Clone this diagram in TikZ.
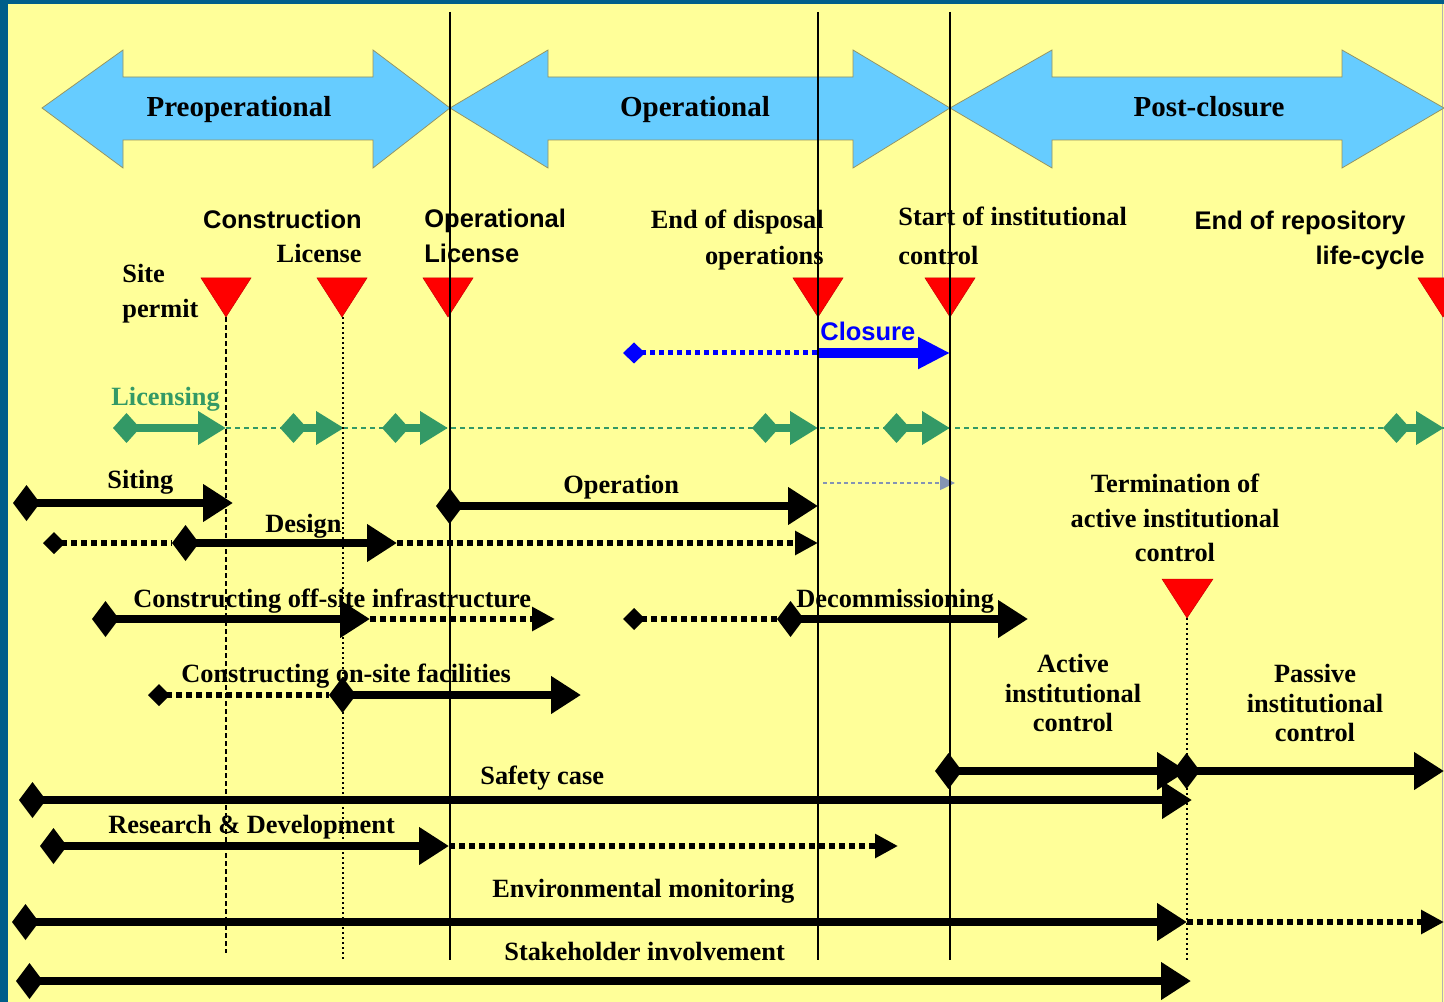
\documentclass[tikz,border=0pt]{standalone}
\usepackage{fontspec}
\setmainfont{Liberation Serif}
\setsansfont{Liberation Sans}
\usetikzlibrary{arrows.meta,calc}

\definecolor{bgyellow}{HTML}{FFFF99}
\definecolor{frameblue}{HTML}{005E8A}
\definecolor{phaseblue}{HTML}{66CCFF}
\definecolor{licgreen}{HTML}{339966}
\definecolor{closeblue}{HTML}{0000FF}
\definecolor{hintgray}{HTML}{8494B4}

\begin{document}
\begin{tikzpicture}[x=0.2mm, y=-0.2mm,
  phase/.style={fill=phaseblue, draw=black!45!yellow!70!gray, line width=0.15mm},
  phaselbl/.style={font=\fontsize{16.5}{20}\selectfont\bfseries, inner sep=0pt, anchor=base},
  lbl/.style={font=\fontsize{15}{20}\selectfont\bfseries, inner sep=0pt, anchor=base west},
  slbl/.style={font=\sffamily\fontsize{14.5}{19.5}\selectfont\bfseries, inner sep=0pt},
  milestone/.style={fill=red, draw=red!80!black, line width=0.1mm},
  bar/.style={line width=1.6mm, {Diamond[length=5.4mm,width=7.2mm]}-{Triangle[length=6mm,width=7.2mm]}},
  dotbar/.style={line width=1.2mm, dash pattern=on 1.2mm off 0.8mm},
  dotstart/.style={{Diamond[length=4.4mm,width=4.4mm]}-},
  dottip/.style={-{Triangle[length=4.6mm,width=4.6mm]}},
  licbar/.style={licgreen, line width=1.6mm, {Diamond[length=5.4mm,width=6mm]}-{Triangle[length=5.6mm,width=6.4mm]}},
  vdot/.style={line width=0.35mm, dash pattern=on 0.4mm off 0.6mm}
]
  % Page: yellow sheet with blue frame
  \useasboundingbox (0,0) rectangle (1444,1002);
  \clip (0,0) rectangle (1444,1002);
  \fill[bgyellow] (0,0) rectangle (1444,1002);
  \fill[frameblue] (0,0) rectangle (8,1002);
  \fill[frameblue] (0,0) rectangle (1444,4);
  \draw[black!30, line width=0.2mm] (1442,4) -- (1442,1002);

  % Phase double arrows
  \foreach \la/\lb/\rb/\ra/\cx/\name/\txt in {42/123/373/450/239/preop/Preoperational,
      450/548/853/950/695/oper/Operational, 950/1052/1342/1444/1209/post/Post-closure} {
    \draw[phase] (\la,108) -- (\lb,50) -- (\lb,77) -- (\rb,77) -- (\rb,50) -- (\ra,108)
      -- (\rb,168) -- (\rb,140) -- (\lb,140) -- (\lb,168) -- cycle;
    \node[phaselbl] (\name) at (\cx,117) {\txt};
  }

  % Milestones (red triangles)
  \foreach \x in {226,342,448,818,950,1443}
    \draw[milestone] (\x-25,278) -- (\x+25,278) -- (\x,317) -- cycle;
  \draw[milestone] (1162,579) -- (1213,579) -- (1187,618) -- cycle;

  % Milestone labels
  \node[lbl, anchor=north west, align=left] (sitepermit) at (122,264) {Site\\permit};
  \node[lbl, anchor=north east, align=right, font=\fontsize{15}{19.3}\selectfont\bfseries] (conlicense) at (362,210)
    {{\sffamily\fontsize{14.5}{19.3}\selectfont Construction}\\License};
  \node[slbl, anchor=north west, align=left] (oplicense) at (424,209) {Operational\\License};
  \node[lbl, anchor=north east, align=right] (enddisposal) at (824,210) {End of disposal\\operations};
  \node[lbl, anchor=north west, align=left, font=\fontsize{15}{22.2}\selectfont\bfseries] (startcontrol) at (898,207)
    {Start of institutional\\control};
  \node[slbl, anchor=north east, align=right] (endrepo) at (1425,211)
    {End of repository\hspace*{3.8mm}\\life-cycle};
  \node[lbl, anchor=north, align=center, font=\fontsize{15}{19.6}\selectfont\bfseries] (termination) at (1175,474)
    {Termination of\\active institutional\\control};

  % Licensing (green)
  \node[lbl, licgreen] (licensing) at (111,405) {Licensing};
  \draw[licgreen, line width=0.4mm, dash pattern=on 1mm off 0.8mm] (226,428) -- (1444,428);
  \draw[licbar] (113,428) -- (226,428);
  \foreach \a/\b in {280/344, 382/448, 752/818, 883/950, 1383/1444}
    \draw[licbar] (\a,428) -- (\b,428);

  % Closure (blue)
  \draw[closeblue, line width=1mm, dash pattern=on 1mm off 0.8mm, {Diamond[length=4.4mm,width=4.2mm]}-] (623,353) -- (818,353);
  \draw[closeblue, line width=2mm, -{Triangle[length=6.4mm,width=6mm]}] (818,353) -- (950,353);
  \node[slbl, closeblue, anchor=base west] (closure) at (820,341) {Closure};

  % Hint arrow after operation
  \draw[hintgray, line width=0.3mm, dash pattern=on 0.8mm off 0.6mm, -{Triangle[length=3mm,width=2.8mm]}] (823,483) -- (955,483);

  % Activities
  \draw[bar] (13,503) -- (233,503);
  \node[lbl] (siting) at (107,488) {Siting};

  \draw[bar] (436,506) -- (818,506);
  \node[lbl] (operation) at (563,493) {Operation};

  \draw[dotbar, dotstart] (43,543) -- (172,543);
  \draw[dotbar, dottip] (397,543) -- (818,543);
  \draw[bar] (172,543) -- (397,543);
  \node[lbl] (design) at (265,532) {Design};

  \draw[dotbar, dottip] (370,619) -- (555,619);
  \draw[bar] (92,619) -- (370,619);
  \node[lbl] (offsite) at (133,607) {Constructing off-site infrastructure};

  \draw[dotbar, dotstart] (623,619) -- (777,619);
  \draw[bar] (777,619) -- (1028,619);
  \node[lbl] (decom) at (796,607) {Decommissioning};

  \draw[dotbar, dotstart] (148,695) -- (329,695);
  \draw[bar] (329,695) -- (581,695);
  \node[lbl] (onsite) at (181,682) {Constructing on-site facilities};

  \draw[bar] (935,771) -- (1187,771);
  \draw[bar] (1173,771) -- (1444,771);
  \node[lbl, anchor=north, align=center, font=\fontsize{15}{16.8}\selectfont\bfseries] (active) at (1073,654)
    {Active\\institutional\\control};
  \node[lbl, anchor=north, align=center, font=\fontsize{15}{16.8}\selectfont\bfseries] (passive) at (1315,664)
    {Passive\\institutional\\control};

  \draw[bar] (19,800) -- (1192,800);
  \node[lbl] (safety) at (480,784) {Safety case};

  \draw[dotbar, dottip] (449,846) -- (898,846);
  \draw[bar] (40,846) -- (449,846);
  \node[lbl] (rnd) at (108,833) {Research \& Development};

  \draw[dotbar, dottip] (1187,922) -- (1444,922);
  \draw[bar] (12,922) -- (1187,922);
  \node[lbl] (envmon) at (492,897) {Environmental monitoring};

  \draw[bar] (16,981) -- (1191,981);
  \node[lbl] (stake) at (504,960) {Stakeholder involvement};

  % Time lines on top
  \foreach \x in {450,818,950}
    \draw[line width=0.25mm] (\x,12) -- (\x,960);
  \draw[line width=0.3mm, dash pattern=on 1mm off 0.6mm] (226,317) -- (226,953);
  \draw[vdot] (343,317) -- (343,960);
  \draw[vdot] (1187,618) -- (1187,960);
\end{tikzpicture}
\end{document}
